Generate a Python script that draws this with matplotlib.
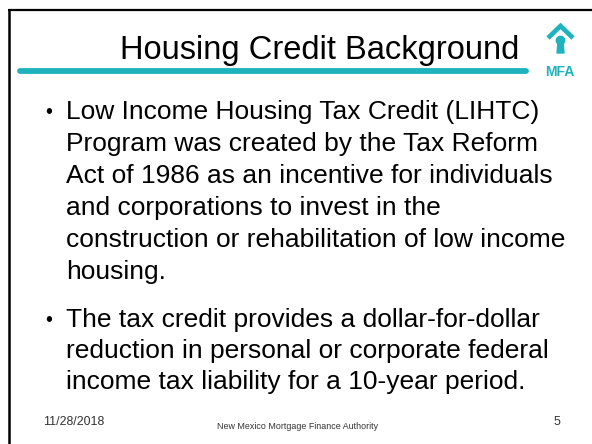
import matplotlib.pyplot as plt
from matplotlib.patches import Circle, Polygon

# slide content
title = "Housing Credit Background"
bullet_1 = [
    "Low Income Housing Tax Credit (LIHTC)",
    "Program was created by the Tax Reform",
    "Act of 1986 as an incentive for individuals",
    "and corporations to invest in the",
    "construction or rehabilitation of low income",
    "housing.",
]
bullet_2 = [
    "The tax credit provides a dollar-for-dollar",
    "reduction in personal or corporate federal",
    "income tax liability for a 10-year period.",
]
footer_date = "11/28/2018"
footer_org = "New Mexico Mortgage Finance Authority"
footer_page = "5"

TEAL = "#1fb3bd"
plt.rcParams['font.family'] = ['Liberation Sans', 'DejaVu Sans']


def px(size):
    # pixel height -> points at 100 dpi
    return size * 0.72


def main():
    fig = plt.figure(figsize=(5.92, 4.44), dpi=100)
    ax = fig.add_axes([0, 0, 1, 1])
    ax.set_xlim(0, 592)
    ax.set_ylim(444, 0)
    ax.axis('off')

    # frame (left and top edges)
    ax.plot([8.5, 8.5], [10, 444], color='black', linewidth=1.8, solid_capstyle='butt')
    ax.plot([8, 592], [10, 10], color='black', linewidth=1.6, solid_capstyle='butt')

    # title + rule
    ax.text(320, 59, title, fontsize=px(32.6), ha='center', va='baseline')
    ax.plot([20, 526], [71, 71], color=TEAL, linewidth=4.2, solid_capstyle='round')

    # logo: roof, keyhole, MFA
    ax.plot([548, 560.5, 573], [38, 26, 38], color=TEAL, linewidth=3.4,
            solid_joinstyle='miter', solid_capstyle='butt')
    ax.add_patch(Circle((560.5, 40.5), 4.2, color=TEAL))
    ax.add_patch(Polygon([(558, 42), (563, 42), (564, 53), (557, 53)], color=TEAL))
    ax.text(560, 75.5, "MFA", fontsize=px(14), fontweight='bold', color=TEAL,
            ha='center', va='baseline')

    # bullets
    y = 119
    for i, line in enumerate(bullet_1):
        if i == 0:
            ax.text(49, y - 7, "\u2022", fontsize=px(20), ha='center', va='center')
        ax.text(66, y, line, fontsize=px(26.4), ha='left', va='baseline')
        y += 32
    y = 327
    for i, line in enumerate(bullet_2):
        if i == 0:
            ax.text(49, y - 7, "\u2022", fontsize=px(20), ha='center', va='center')
        ax.text(66, y, line, fontsize=px(26.4), ha='left', va='baseline')
        y += 31

    # footer
    ax.text(43, 425, footer_date, fontsize=px(12.4), color='#333333', va='baseline')
    ax.text(298, 428.5, footer_org, fontsize=px(8.9), color='#333333',
            ha='center', va='baseline')
    ax.text(557, 425, footer_page, fontsize=px(12.4), color='#333333',
            ha='center', va='baseline')

    fig.savefig("out.png", dpi=100)


if __name__ == '__main__':
    main()
